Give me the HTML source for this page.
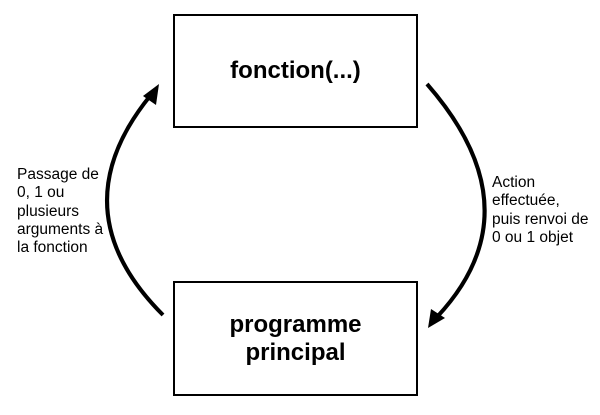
<!DOCTYPE html>
<html><head><style>
body{margin:0;width:600px;height:415px;background:#fff;position:relative;font-family:"Liberation Sans",sans-serif;overflow:hidden}
.box{position:absolute;border:2px solid #000;box-sizing:border-box;display:flex;align-items:center;justify-content:center;text-align:center;font-weight:bold;font-size:24px;line-height:28px}
.t{position:absolute;font-size:15.5px;line-height:18.3px;color:#000}
</style></head><body>
<div class="box" style="left:173px;top:14px;width:245px;height:114px">fonction(...)</div>
<div class="box" style="left:173px;top:281px;width:245px;height:115px">programme<br>principal</div>
<div class="t" style="left:17px;top:166px">Passage de<br>0, 1 ou<br>plusieurs<br>arguments à<br>la fonction</div>
<div class="t" style="left:492px;top:174px">Action<br>effectuée,<br>puis renvoi de<br>0 ou 1 objet</div>
<svg width="600" height="415" style="position:absolute;left:0;top:0">
<path d="M163,315 Q58,210 150,96" fill="none" stroke="#000" stroke-width="4"/>
<polygon points="159,84 143,96 156,105" fill="#000"/>
<path d="M427,84 Q537,210 437,317" fill="none" stroke="#000" stroke-width="4"/>
<polygon points="428,328 431,309 445,318" fill="#000"/>
</svg>
</body></html>
